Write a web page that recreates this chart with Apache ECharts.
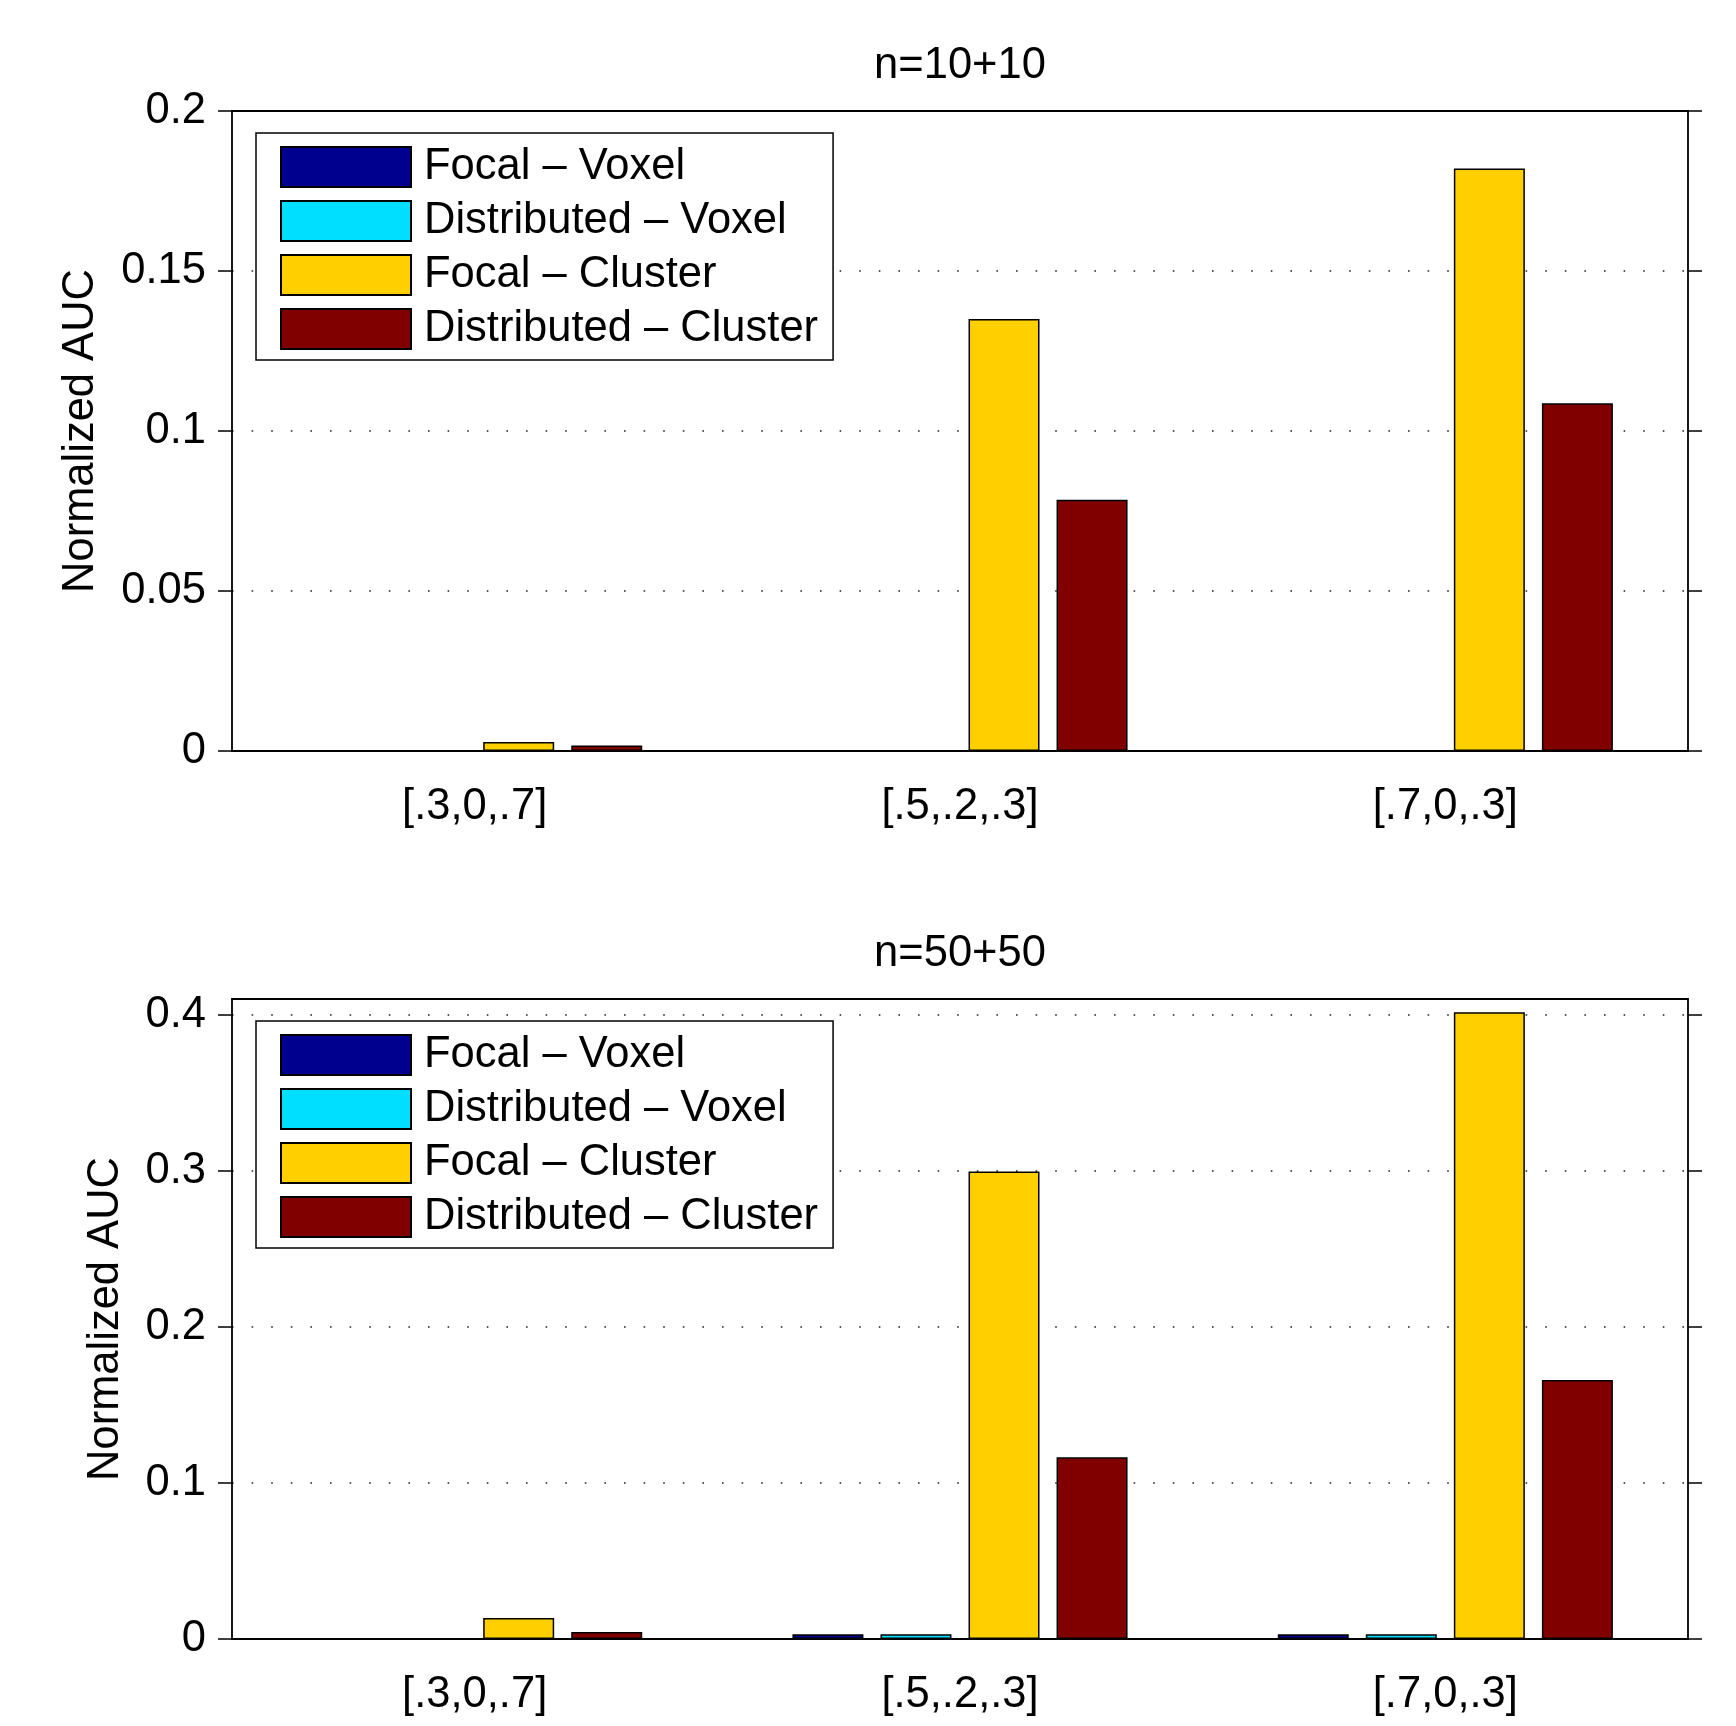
<!DOCTYPE html>
<html lang="en">
<head>
    <meta charset="UTF-8">
    <title>Normalized AUC</title>
    <script src="https://cdn.jsdelivr.net/npm/echarts@6/dist/echarts.min.js"></script>
    <style>
        body { margin: 0; background: #fff; }
        #chart { width: 1736px; height: 1726px; }
    </style>
</head>
<body>
    <div id="chart"></div>
    <script>
        // categories and series
        var categories = ['[.3,0,.7]', '[.5,.2,.3]', '[.7,0,.3]'];
        var seriesNames = ['Focal \u2013 Voxel', 'Distributed \u2013 Voxel', 'Focal \u2013 Cluster', 'Distributed \u2013 Cluster'];
        var colors = ['#00008F', '#00DFFF', '#FFCF00', '#800000'];
        var panelTitles = ['n=10+10', 'n=50+50'];

        // n=10+10
        var focalVoxel10 = [0, 0, 0];
        var distVoxel10 = [0, 0, 0];
        var focalCluster10 = [0.0028, 0.135, 0.182];
        var distCluster10 = [0.0017, 0.0785, 0.1087];

        // n=50+50
        var focalVoxel50 = [0, 0.003, 0.003];
        var distVoxel50 = [0, 0.003, 0.003];
        var focalCluster50 = [0.0135, 0.2995, 0.4015];
        var distCluster50 = [0.0045, 0.1165, 0.166];

        // y ticks
        var yTicks10 = [0, 0.05, 0.1, 0.15, 0.2];
        var yTicks50 = [0, 0.1, 0.2, 0.3, 0.4];

        var panelData = [
            [focalVoxel10, distVoxel10, focalCluster10, distCluster10],
            [focalVoxel50, distVoxel50, focalCluster50, distCluster50]
        ];

        var font = 'Liberation Sans';
        var fs = 43.5;
        var gridTops = [111, 999];
        var yMax = [0.2, 0.41];
        var yInterval = [0.05, 0.1];
        var yTickList = [yTicks10, yTicks50];
        var nameGaps = [129, 104];

        var grids = [], xAxes = [], yAxes = [], titles = [], legends = [], series = [];

        gridTops.forEach(function (top, p) {
            grids.push({ left: 232, right: 48, top: top, height: 640 });
            // bottom x axis
            xAxes.push({
                type: 'category', gridIndex: p, data: categories, position: 'bottom',
                axisLine: { lineStyle: { color: '#000', width: 1.8 } },
                axisTick: { alignWithLabel: true, length: 14, lineStyle: { color: '#000', width: 1.5 } },
                axisLabel: { color: '#000', fontSize: fs, fontFamily: font, margin: 34 }
            });
            // top x axis (box)
            xAxes.push({
                type: 'category', gridIndex: p, data: categories, position: 'top',
                axisLine: { onZero: false, lineStyle: { color: '#000', width: 1.8 } },
                axisTick: { alignWithLabel: true, length: 14, lineStyle: { color: '#000', width: 1.5 } },
                axisLabel: { show: false }
            });
            // left y axis
            yAxes.push({
                type: 'value', gridIndex: p, position: 'left',
                min: 0, max: yMax[p], interval: yInterval[p],
                name: 'Normalized AUC', nameLocation: 'middle', nameRotate: 90, nameGap: nameGaps[p],
                nameTextStyle: { color: '#000', fontSize: fs, fontFamily: font },
                axisLine: { show: true, lineStyle: { color: '#000', width: 1.8 } },
                axisTick: { show: true, length: 14, customValues: yTickList[p], lineStyle: { color: '#000', width: 1.5 } },
                axisLabel: { color: '#000', fontSize: fs, fontFamily: font, margin: 26, customValues: yTickList[p] },
                splitLine: { show: true, lineStyle: { color: '#222', width: 1.6, type: [1.6, 18] } }
            });
            // right y axis (box)
            yAxes.push({
                type: 'value', gridIndex: p, position: 'right',
                min: 0, max: yMax[p], interval: yInterval[p],
                axisLine: { show: true, lineStyle: { color: '#000', width: 1.8 } },
                axisTick: { show: true, length: 14, customValues: yTickList[p], lineStyle: { color: '#000', width: 1.5 } },
                axisLabel: { show: false },
                splitLine: { show: false }
            });

            titles.push({
                text: panelTitles[p], left: 960, top: top - 67, textAlign: 'center', padding: 0,
                textStyle: { color: '#000', fontSize: fs, fontFamily: font, fontWeight: 'normal' }
            });

            legends.push({
                data: seriesNames, orient: 'vertical', left: 256, top: top + 22,
                padding: [12, 15, 9, 24], itemWidth: 130, itemHeight: 40, itemGap: 10,
                icon: 'rect',
                backgroundColor: '#fff', borderColor: '#000', borderWidth: 1.5, borderRadius: 0,
                selectedMode: false,
                textStyle: { color: '#000', fontSize: fs, fontFamily: font, padding: [3, 0, 0, 8] }
            });

            panelData[p].forEach(function (vals, i) {
                series.push({
                    name: seriesNames[i], type: 'bar',
                    xAxisIndex: p * 2, yAxisIndex: p * 2,
                    data: vals, barWidth: 71, barGap: '24%',
                    itemStyle: { color: colors[i], borderColor: '#000', borderWidth: 1.5 }
                });
            });
        });

        var chart = echarts.init(document.getElementById('chart'));
        chart.setOption({
            animation: false,
            backgroundColor: '#fff',
            title: titles,
            legend: legends,
            grid: grids,
            xAxis: xAxes,
            yAxis: yAxes,
            series: series
        });
    </script>
</body>
</html>
